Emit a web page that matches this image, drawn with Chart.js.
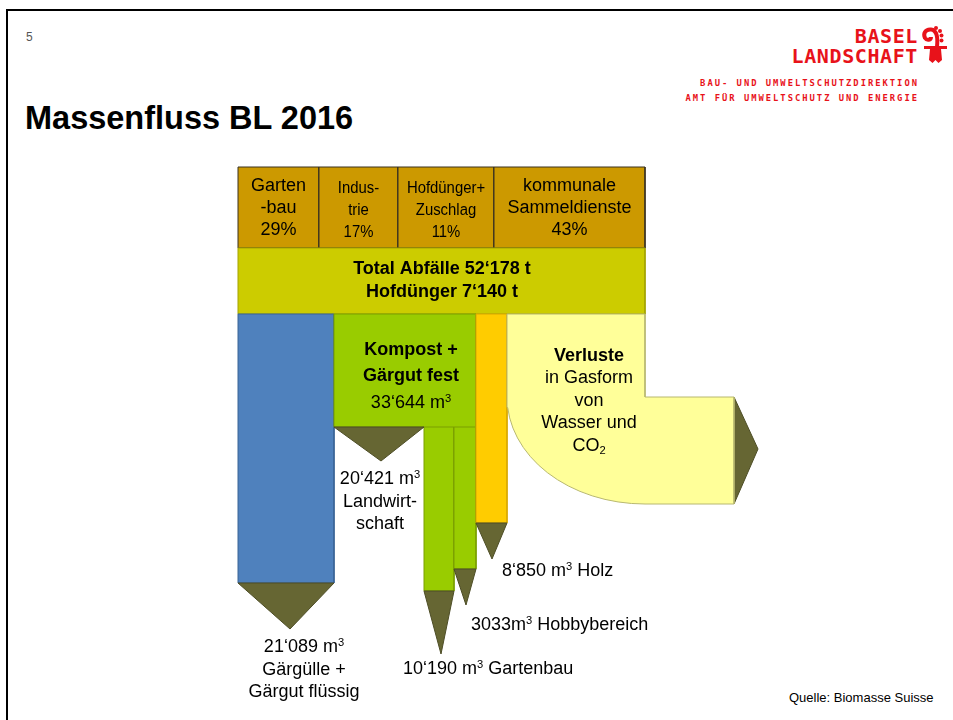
<!DOCTYPE html>
<html lang="de">
<head>
<meta charset="utf-8">
<title>Massenfluss BL 2016</title>
<script src="https://cdn.jsdelivr.net/npm/chart.js@4.4.1/dist/chart.umd.min.js"></script>
<style>
  html, body { margin: 0; padding: 0; background: #fff; }
  body { width: 953px; height: 720px; position: relative; overflow: hidden; font-family: "Liberation Sans", Arial, sans-serif; }
  #frame { position: absolute; left: 6px; top: 9px; width: 980px; height: 760px; border-left: 2px solid #000; border-top: 2px solid #000; }
  #pageNo { position: absolute; left: 26px; top: 31px; font-size: 12px; line-height: 1; color: #555; }
  .logo { position: absolute; color: #e8121a; font-family: "DejaVu Sans Mono", monospace; white-space: nowrap; line-height: 1; text-align: right; }
  #logo1 { right: 35px; top: 26px; font-size: 20px; font-weight: bold; letter-spacing: 0.6px; }
  #logo2 { right: 35px; top: 46px; font-size: 20px; font-weight: bold; letter-spacing: 0.6px; }
  #dept1 { right: 34px; top: 79px; font-size: 8.8px; font-weight: bold; letter-spacing: 2px; }
  #dept2 { right: 34px; top: 94px; font-size: 8.8px; font-weight: bold; letter-spacing: 2px; }
  #crest { position: absolute; left: 920px; top: 26px; }
  h1 { position: absolute; left: 25px; top: 102px; margin: 0; font-size: 32.5px; line-height: 1; font-weight: bold; color: #000; }
  #source { position: absolute; left: 789px; top: 691px; font-size: 13px; line-height: 1; color: #000; }
  #chartBox { position: absolute; left: 0; top: 0; width: 953px; height: 720px; }
</style>
</head>
<body>
<div id="frame"></div>
<div id="pageNo">5</div>
<div class="logo" id="logo1">BASEL</div>
<div class="logo" id="logo2">LANDSCHAFT</div>
<svg id="crest" width="30" height="40" viewBox="0 0 30 40">
  <path d="M17 21 C18 12 17 4 11 3.5 C5 3 3 8 5 12 C7 15 11 14 11 11" fill="none" stroke="#e8121a" stroke-width="4"/>
  <circle cx="16" cy="2" r="2" fill="#e8121a"/>
  <circle cx="20" cy="5" r="2" fill="#e8121a"/>
  <circle cx="21.5" cy="9.5" r="2" fill="#e8121a"/>
  <circle cx="21.5" cy="14.5" r="2" fill="#e8121a"/>
  <rect x="4" y="20" width="23" height="3" fill="#e8121a"/>
  <path d="M10 23 L21 23 L22 34 L18.5 37 L15.5 34 L12.5 37 L9 34 Z" fill="#e8121a"/>
</svg>
<div class="logo" id="dept1">BAU- UND UMWELTSCHUTZDIREKTION</div>
<div class="logo" id="dept2">AMT FÜR UMWELTSCHUTZ UND ENERGIE</div>
<h1>Massenfluss BL 2016</h1>
<div id="source">Quelle: Biomasse Suisse</div>
<div id="chartBox"><canvas id="flowChart" width="953" height="720"></canvas></div>

<script>
"use strict";

// values
const sourceNames = [["Garten", "-bau"], ["Indus-", "trie"], ["Hofdünger+", "Zuschlag"], ["kommunale", "Sammeldienste"]];
const sourceShares = [29, 17, 11, 43];
const totalWaste = 52178;        // t
const manureTotal = 7140;        // t
const liquidDigestate = 21089;   // m3 Gärgülle + Gärgut flüssig
const solidCompost = 33644;      // m3 Kompost + Gärgut fest
const compostUseNames = ["Landwirtschaft", "Gartenbau", "Hobbybereich"];
const compostUseVolumes = [20421, 10190, 3033];
const woodVolume = 8850;         // m3 Holz

// schematic layout of the flow picture, in page pixels (y downwards)
const sourceEdges = [238, 319, 398, 494, 645];
const rowEdges = [167, 248, 314];
const outEdges = [238, 334, 476, 507, 645];
const compostSplit = [334, 424, 454, 476];

const FONT = '"Liberation Sans", Arial, sans-serif';
const ARROW = "#666633";
const ARROW_LINE = "#4d4d26";

function fmt(n) {
  return String(n).replace(/\B(?=(\d{3})+(?!\d))/g, "\u2018");
}

function rect(x0, x1, y0, y1) {
  return [[x0, y0], [x1, y0], [x1, y1], [x0, y1]];
}

function arrowDown(x0, x1, y, tipX, tipY) {
  return [[x0, y], [x1, y], [tipX, tipY]];
}

function lossShape() {
  const left = outEdges[3], right = outEdges[4];
  const top = rowEdges[2], mid = 397, bottom = 504, tail = 734;
  const pts = [[left, top], [right, top], [right, mid], [tail, mid], [tail, bottom], [right, bottom]];
  const rx = right - left, ry = bottom - mid;
  for (let k = 1; k <= 16; k++) {
    const a = Math.PI / 2 + (k / 16) * Math.PI / 2;
    pts.push([right + rx * Math.cos(a), mid + ry * Math.sin(a)]);
  }
  return pts;
}

const shapes = [];
sourceShares.forEach((_, i) => {
  shapes.push({ pts: rect(sourceEdges[i], sourceEdges[i + 1], rowEdges[0], rowEdges[1]), fill: "#cc9900", line: "#3b3320" });
});
shapes.push({ pts: rect(sourceEdges[0], sourceEdges[4], rowEdges[1], rowEdges[2]), fill: "#cccc00", line: "#a3a300" });

// liquid digestate
shapes.push({ pts: rect(outEdges[0], outEdges[1], rowEdges[2], 583), fill: "#4f81bd", line: "#3a6496" });
shapes.push({ pts: arrowDown(outEdges[0], outEdges[1], 583, 290, 629), fill: ARROW, line: ARROW_LINE });

// compost and its uses
shapes.push({ pts: rect(compostSplit[1], compostSplit[2], 420, 591), fill: "#99cc00", line: "#7a9f00" });
shapes.push({ pts: arrowDown(compostSplit[1], compostSplit[2], 591, 441, 654), fill: ARROW, line: ARROW_LINE });
shapes.push({ pts: rect(compostSplit[2], compostSplit[3], 420, 569), fill: "#99cc00", line: "#7a9f00" });
shapes.push({ pts: arrowDown(compostSplit[2], compostSplit[3], 569, 466, 605), fill: ARROW, line: ARROW_LINE });
shapes.push({ pts: rect(outEdges[1], outEdges[2], rowEdges[2], 427), fill: "#99cc00", line: "#7a9f00" });
shapes.push({ pts: arrowDown(compostSplit[0], compostSplit[1], 427, 381, 461), fill: ARROW, line: ARROW_LINE });

// wood
shapes.push({ pts: rect(outEdges[2], outEdges[3], rowEdges[2], 523), fill: "#ffcc00", line: "#d9a800" });
shapes.push({ pts: arrowDown(outEdges[2], outEdges[3], 523, 492, 559), fill: ARROW, line: ARROW_LINE });

// gaseous losses
shapes.push({ pts: [[734, 397], [758, 449], [734, 504]], fill: ARROW, line: ARROW_LINE });
shapes.push({ pts: lossShape(), fill: "#ffff99", line: "#b8b870" });

const flowLabels = [];
sourceShares.forEach((share, i) => {
  const narrow = i === 1 || i === 2;
  flowLabels.push({
    x: (sourceEdges[i] + sourceEdges[i + 1]) / 2,
    y: narrow ? 193 : 191,
    lh: 22,
    size: narrow ? 16 : 18,
    stretch: narrow ? 0.93 : 1,
    lines: [...sourceNames[i], share + "%"]
  });
});
flowLabels.push({ x: 442, y: 274, lh: 23, size: 18, weight: "bold",
  lines: ["Total Abfälle " + fmt(totalWaste) + " t", "Hofdünger " + fmt(manureTotal) + " t"] });
flowLabels.push({ x: 411, y: 355, lh: 26, size: 18, weight: "bold", lines: ["Kompost +", "Gärgut fest"] });
flowLabels.push({ x: 411, y: 408, lh: 22, size: 18, lines: [fmt(solidCompost) + " m^3"] });
flowLabels.push({ x: 589, y: 361, lh: 22, size: 18, weight: "bold", lines: ["Verluste"] });
flowLabels.push({ x: 589, y: 383, lh: 22.5, size: 18, lines: ["in Gasform", "von", "Wasser und", "CO_2"] });
flowLabels.push({ x: 380, y: 484, lh: 22.5, size: 18,
  lines: [fmt(compostUseVolumes[0]) + " m^3", "Landwirt-", "schaft"] });
flowLabels.push({ x: 304, y: 652, lh: 22.5, size: 18,
  lines: [fmt(liquidDigestate) + " m^3", "Gärgülle +", "Gärgut flüssig"] });
flowLabels.push({ x: 403, y: 674, size: 18, align: "left",
  lines: [fmt(compostUseVolumes[1]) + " m^3 " + compostUseNames[1]] });
flowLabels.push({ x: 471, y: 630, size: 18, align: "left",
  lines: [compostUseVolumes[2] + "m^3 " + compostUseNames[2]] });
flowLabels.push({ x: 502, y: 576, size: 18, align: "left",
  lines: [fmt(woodVolume) + " m^3 Holz"] });

function drawRich(ctx, text, px, py, style) {
  const base = style.size;
  const parts = text.split(/(\^\d|_\d)/).filter(Boolean).map(p => {
    if (p[0] === "^") return { t: p.slice(1), size: base * 0.62, dy: -base * 0.36 };
    if (p[0] === "_") return { t: p.slice(1), size: base * 0.62, dy: base * 0.22 };
    return { t: p, size: base, dy: 0 };
  });
  const sx = style.stretch || 1;
  const fontOf = s => `${style.weight || "normal"} ${s}px ${FONT}`;
  let width = 0;
  parts.forEach(p => {
    ctx.font = fontOf(p.size);
    p.w = ctx.measureText(p.t).width;
    width += p.w;
  });
  const startX = style.align === "left" ? px : px - (width * sx) / 2;
  ctx.save();
  ctx.translate(startX, py);
  ctx.scale(sx, 1);
  ctx.textAlign = "left";
  ctx.textBaseline = "alphabetic";
  let off = 0;
  parts.forEach(p => {
    ctx.font = fontOf(p.size);
    ctx.fillText(p.t, off, p.dy);
    off += p.w;
  });
  ctx.restore();
}

const labelPlugin = {
  id: "flowLabels",
  afterDatasetsDraw(chart) {
    const { ctx, scales } = chart;
    ctx.save();
    ctx.fillStyle = "#000";
    flowLabels.forEach(label => {
      label.lines.forEach((line, i) => {
        const px = scales.x.getPixelForValue(label.x);
        const py = scales.y.getPixelForValue(label.y + i * (label.lh || 0));
        drawRich(ctx, line, px, py, label);
      });
    });
    ctx.restore();
  }
};

const datasets = shapes.map((shape, i) => ({
  data: [...shape.pts, shape.pts[0]].map(([x, y]) => ({ x, y })),
  backgroundColor: shape.fill,
  borderColor: shape.line,
  borderWidth: 1,
  fill: "shape",
  pointRadius: 0,
  pointHoverRadius: 0,
  tension: 0,
  order: shapes.length - i
}));

new Chart(document.getElementById("flowChart").getContext("2d"), {
  type: "line",
  data: { datasets },
  plugins: [labelPlugin],
  options: {
    responsive: false,
    animation: false,
    devicePixelRatio: 1,
    layout: { padding: 0 },
    events: [],
    plugins: {
      legend: { display: false },
      tooltip: { enabled: false }
    },
    scales: {
      x: { type: "linear", min: 0, max: 953, display: false },
      y: { type: "linear", min: 0, max: 720, reverse: true, display: false }
    }
  }
});
</script>
</body>
</html>
